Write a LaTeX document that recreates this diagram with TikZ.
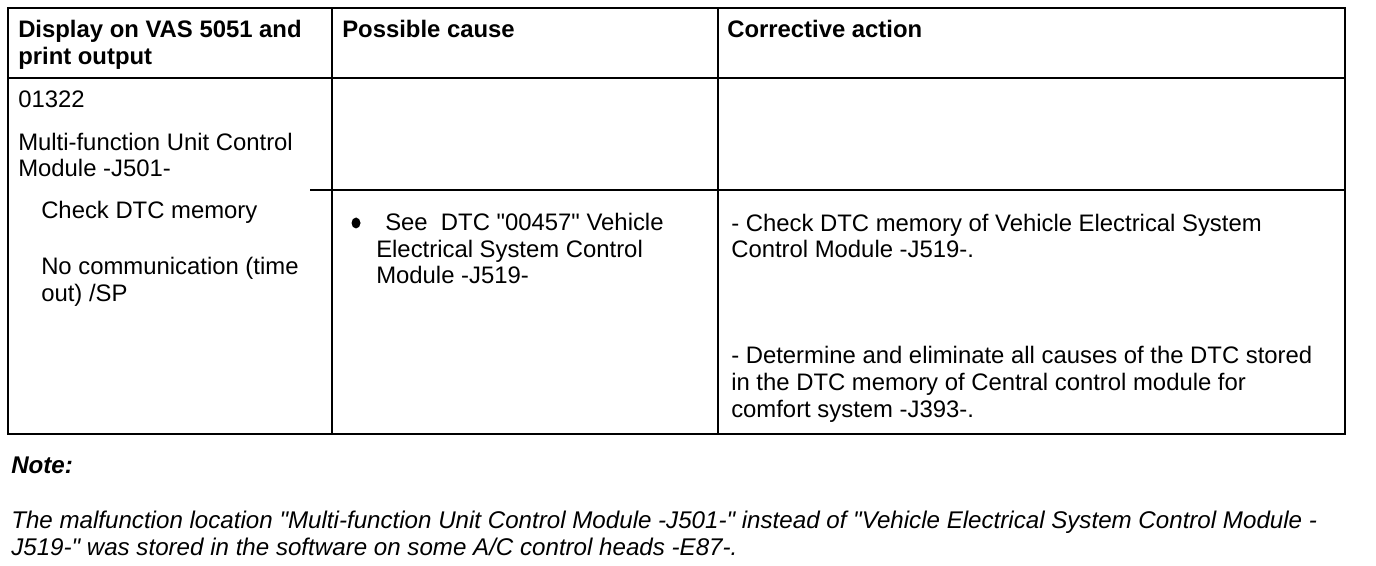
\documentclass[tikz,border=0pt]{standalone}
\usepackage{fontspec}
\setmainfont{Liberation Sans}[Ligatures=TeXOff]
\begin{document}
\begin{tikzpicture}[x=0.75pt,y=-0.75pt,
  txt/.style={anchor=base west,inner sep=0pt,font=\fontsize{17.9}{21}\selectfont},
  hdr/.style={txt,font=\fontsize{17.9}{21}\selectfont\bfseries},
  note/.style={txt,font=\fontsize{18.1}{21}\selectfont\itshape},
  thinline/.style={line width=0.9pt},
  thickline/.style={line width=1.5pt}]
\useasboundingbox[fill=white] (0,0) rectangle (1376,566);
% table grid
\coordinate (tl) at (8,8);
\coordinate (br) at (1345,434);
\draw[thinline] (tl) rectangle (br);
\draw[thickline] (8,78) -- (1345,78);
\draw[thickline] (310,190) -- (1345,190);
\draw[thickline] (332,8) -- (332,434);
\draw[thickline] (718,8) -- (718,434);
% header
\node[hdr] (h1a) at (18,38) {Display on VAS 5051 and};
\node[hdr] (h1b) at (18,65) {print output};
\node[hdr] (h2) at (342,38) {Possible cause};
\node[hdr] (h3) at (727,38) {Corrective action};
% first column
\node[txt] (c1) at (18,108) {01322};
\node[txt] (c2a) at (18,151) {Multi-function Unit Control};
\node[txt] (c2b) at (18,177) {Module -J501-};
\node[txt] (c3) at (41,219) {Check DTC memory};
\node[txt] (c4a) at (41,275) {No communication (time};
\node[txt] (c4b) at (41,301) {out) /SP};
% possible cause
\fill (356,223) ellipse [x radius=4.5, y radius=5.5];
\node[txt] (p1a) at (385,231) {See\ \ DTC "00457" Vehicle};
\node[txt] (p1b) at (376,258) {Electrical System Control};
\node[txt] (p1c) at (376,284) {Module -J519-};
% corrective action
\node[txt] (a1a) at (731,232) {- Check DTC memory of Vehicle Electrical System};
\node[txt] (a1b) at (731,258) {Control Module -J519-.};
\node[txt] (a2a) at (731,363) {- Determine and eliminate all causes of the DTC stored};
\node[txt] (a2b) at (731,390) {in the DTC memory of Central control module for};
\node[txt] (a2c) at (731,417) {comfort system -J393-.};
% note
\node[note,font=\fontsize{18.1}{21}\selectfont\bfseries\itshape] (n0) at (11,473) {Note:};
\node[note] (n1) at (11,528) {The malfunction location "Multi-function Unit Control Module -J501-" instead of "Vehicle Electrical System Control Module -};
\node[note] (n2) at (11,555) {J519-" was stored in the software on some A/C control heads -E87-.};
\end{tikzpicture}
\end{document}
